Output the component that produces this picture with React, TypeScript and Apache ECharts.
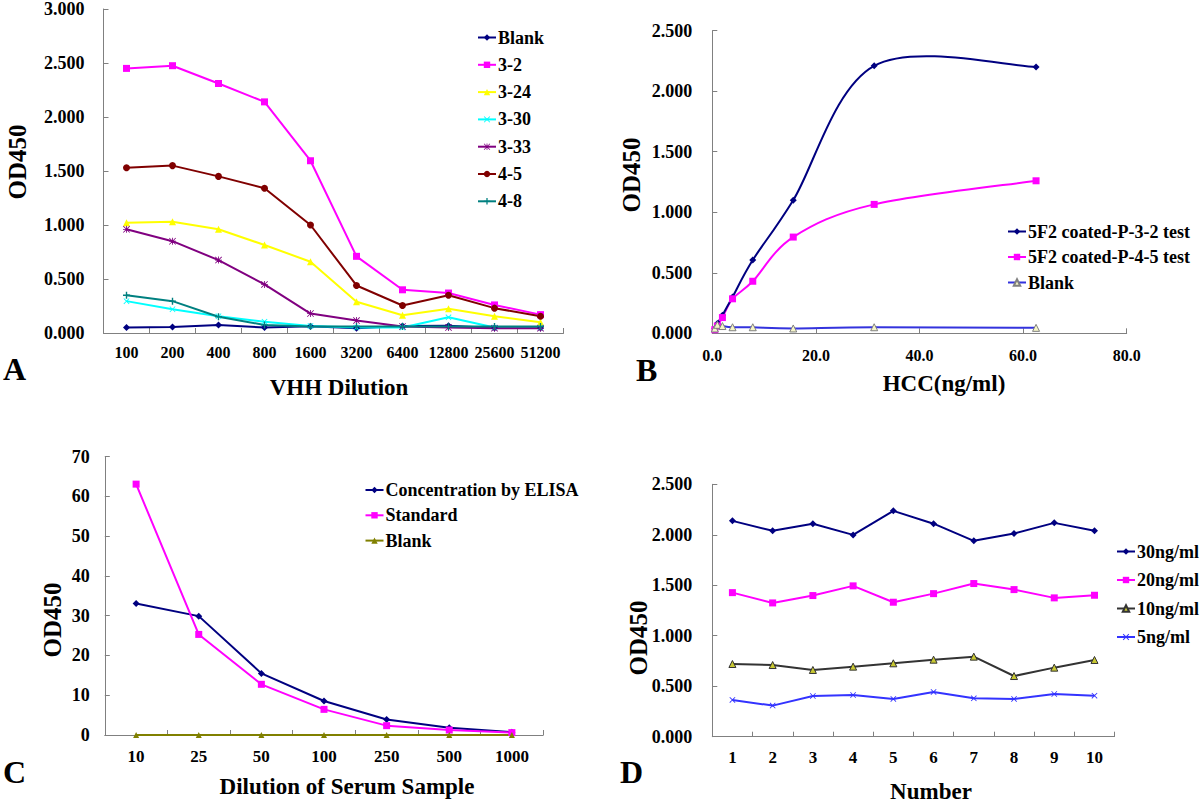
import React, { useEffect, useRef } from "react";
import * as echarts from "echarts";

// ---------- Panel A ----------
const dilutionsA = ["100", "200", "400", "800", "1600", "3200", "6400", "12800", "25600", "51200"];
const blankA = [0.05, 0.055, 0.074, 0.05, 0.062, 0.045, 0.064, 0.067, 0.046, 0.046];
const s3_2 = [2.45, 2.475, 2.31, 2.14, 1.595, 0.71, 0.4, 0.37, 0.26, 0.17];
const s3_24 = [1.02, 1.03, 0.96, 0.815, 0.66, 0.29, 0.165, 0.225, 0.155, 0.1];
const s3_30 = [0.295, 0.22, 0.155, 0.105, 0.065, 0.05, 0.05, 0.145, 0.05, 0.05];
const s3_33 = [0.96, 0.85, 0.675, 0.45, 0.18, 0.115, 0.06, 0.05, 0.045, 0.045];
const s4_5 = [1.53, 1.55, 1.45, 1.34, 1.0, 0.44, 0.255, 0.35, 0.23, 0.155];
const s4_8 = [0.35, 0.295, 0.15, 0.075, 0.06, 0.06, 0.06, 0.06, 0.06, 0.06];

// ---------- Panel B ----------
const hcc = [0.488, 0.977, 1.953, 3.906, 7.8125, 15.625, 31.25, 62.5];
const p32 = [0.04, 0.08, 0.15, 0.3, 0.605, 1.1, 2.21, 2.2];
const p45 = [0.03, 0.06, 0.13, 0.285, 0.43, 0.795, 1.065, 1.26];
const blankB = [0.04, 0.07, 0.06, 0.05, 0.05, 0.04, 0.05, 0.045];

// ---------- Panel C ----------
const dilutionsC = ["10", "25", "50", "100", "250", "500", "1000"];
const elisa = [33.1, 29.9, 15.5, 8.55, 3.9, 1.85, 0.7];
const standard = [63.1, 25.3, 12.75, 6.45, 2.35, 1.25, 0.6];
const blankC = [0, 0, 0, 0, 0, 0, 0];

// ---------- Panel D ----------
const numbers = ["1", "2", "3", "4", "5", "6", "7", "8", "9", "10"];
const ng30 = [2.138, 2.039, 2.11, 1.999, 2.237, 2.11, 1.94, 2.012, 2.118, 2.039];
const ng20 = [1.427, 1.325, 1.398, 1.494, 1.332, 1.417, 1.517, 1.457, 1.375, 1.401];
const ng10 = [0.72, 0.71, 0.661, 0.694, 0.727, 0.763, 0.793, 0.601, 0.684, 0.76];
const ng5 = [0.364, 0.308, 0.403, 0.413, 0.374, 0.443, 0.38, 0.374, 0.423, 0.406];

const FONT = "Liberation Serif";
const xSym = "path://M0,1L1,0L5,4L9,0L10,1L6,5L10,9L9,10L5,6L1,10L0,9L4,5Z";
const plusSym = "path://M4,0H6V4H10V6H6V10H4V6H0V4H4Z";
const starSym =
  "path://M4.4,0H5.6V4.4H10V5.6H5.6V10H4.4V5.6H0V4.4H4.4Z M0,0.8L0.8,0L5,4.2L9.2,0L10,0.8L5.8,5L10,9.2L9.2,10L5,5.8L0.8,10L0,9.2L4.2,5Z";

const axisLine = { show: true, lineStyle: { color: "#808080", width: 1 } };
const axisTick = { show: true, inside: true, length: 5, lineStyle: { color: "#808080" } };

function labelStyle(size: number, margin: number, fmt?: (v: number) => string) {
  const o: any = { color: "#000", fontFamily: FONT, fontWeight: "bold", fontSize: size, margin, interval: 0 };
  if (fmt) o.formatter = fmt;
  return o;
}

function line(
  name: string,
  data: any[],
  axis: number,
  color: string,
  symbol: string,
  symbolSize: number,
  extra: any = {}
) {
  return {
    type: "line",
    name,
    data,
    xAxisIndex: axis,
    yAxisIndex: axis,
    symbol,
    symbolSize,
    lineStyle: { color, width: 2 },
    itemStyle: { color },
    ...extra,
  };
}

// Excel-style smoothed curve (Catmull-Rom, tension 1/6) drawn through the axis scales
function smoothCurve(name: string, xs: number[], ys: number[], color: string) {
  return {
    type: "custom",
    name,
    xAxisIndex: 1,
    yAxisIndex: 1,
    silent: true,
    data: xs.map((x, i) => [x, ys[i]]),
    encode: { x: 0, y: 1 },
    renderItem: (params: any, api: any) => {
      if (params.dataIndex !== 0) return null;
      const p = xs.map((x, i) => api.coord([x, ys[i]]));
      let d = `M${p[0][0]},${p[0][1]}`;
      for (let i = 0; i < p.length - 1; i++) {
        const p0 = p[Math.max(i - 1, 0)];
        const p1 = p[i];
        const p2 = p[i + 1];
        const p3 = p[Math.min(i + 2, p.length - 1)];
        const c1x = p1[0] + (p2[0] - p0[0]) / 6;
        const c1y = p1[1] + (p2[1] - p0[1]) / 6;
        const c2x = p2[0] - (p3[0] - p1[0]) / 6;
        const c2y = p2[1] - (p3[1] - p1[1]) / 6;
        d += ` C${c1x},${c1y} ${c2x},${c2y} ${p2[0]},${p2[1]}`;
      }
      return {
        type: "path",
        shape: { pathData: d },
        style: { stroke: color, lineWidth: 2, fill: "none" },
      };
    },
  };
}

function legend(left: number, top: number, gap: number, data: any[]) {
  return {
    orient: "vertical",
    left,
    top,
    padding: 0,
    itemGap: gap,
    itemWidth: 18,
    itemHeight: 8,
    selectedMode: false,
    textStyle: { fontFamily: FONT, fontWeight: "bold", fontSize: 18, color: "#000", padding: [0, 0, 0, -3] },
    formatter: (n: string) => n.split("|")[1],
    data,
  };
}

function txt(text: string, x: number, y: number, size: number, rot = 0, align = "center") {
  return {
    type: "text",
    x,
    y,
    rotation: rot,
    style: {
      text,
      fill: "#000",
      fontFamily: FONT,
      fontWeight: "bold",
      fontSize: size,
      align,
      verticalAlign: "middle",
    },
  };
}

export default function App() {
  const ref = useRef<HTMLDivElement>(null);
  useEffect(() => {
    if (!ref.current) return;
    const chart = echarts.init(ref.current, undefined, { renderer: "svg" });
    const f3 = (v: number) => v.toFixed(3);
    const hidden = { width: 2, opacity: 0 };
    const option: any = {
      animation: false,
      backgroundColor: "#fff",
      grid: [
        { left: 103.5, top: 7.5, width: 460, height: 325.5 },
        { left: 712.3, top: 30.7, width: 414.4, height: 302.6 },
        { left: 104.8, top: 456.7, width: 438.4, height: 278.3 },
        { left: 712.3, top: 484.3, width: 402.3, height: 252.4 },
      ],
      xAxis: [
        { type: "category", gridIndex: 0, data: dilutionsA, boundaryGap: true, axisLine, axisTick, axisLabel: labelStyle(16, 11) },
        { type: "value", gridIndex: 1, min: 0, max: 80, interval: 20, splitLine: { show: false }, axisLine, axisTick, axisLabel: labelStyle(16, 14, (v) => v.toFixed(1)) },
        { type: "category", gridIndex: 2, data: dilutionsC, boundaryGap: true, axisLine, axisTick, axisLabel: labelStyle(17, 13) },
        { type: "category", gridIndex: 3, data: numbers, boundaryGap: true, axisLine, axisTick, axisLabel: labelStyle(17, 12) },
      ],
      yAxis: [
        { type: "value", gridIndex: 0, min: 0, max: 3, interval: 0.5, splitLine: { show: false }, axisLine, axisTick, axisLabel: labelStyle(18, 19, f3) },
        { type: "value", gridIndex: 1, min: 0, max: 2.5, interval: 0.5, splitLine: { show: false }, axisLine, axisTick, axisLabel: labelStyle(18, 20, f3) },
        { type: "value", gridIndex: 2, min: 0, max: 70, interval: 10, splitLine: { show: false }, axisLine, axisTick, axisLabel: labelStyle(18, 15) },
        { type: "value", gridIndex: 3, min: 0, max: 2.5, interval: 0.5, splitLine: { show: false }, axisLine, axisTick, axisLabel: labelStyle(18, 20, f3) },
      ],
      legend: [
        legend(477, 28.5, 9.3, ["A|Blank", "A|3-2", "A|3-24", "A|3-30", "A|3-33", "A|4-5", "A|4-8"]),
        legend(1007, 222.5, 7.5, [
          { name: "B|5F2 coated-P-3-2 test", lineStyle: { opacity: 1, width: 2, color: "#000080" } },
          { name: "B|5F2 coated-P-4-5 test", lineStyle: { opacity: 1, width: 2, color: "#ff00ff" } },
          { name: "B|Blank", lineStyle: { opacity: 1, width: 2, color: "#3333dd" } },
        ]),
        legend(364.5, 481, 7.3, ["C|Concentration by ELISA", "C|Standard", "C|Blank"]),
        legend(1116, 542.5, 10.5, ["D|30ng/ml", "D|20ng/ml", "D|10ng/ml", "D|5ng/ml"]),
      ],
      series: [
        line("A|Blank", blankA, 0, "#000080", "diamond", 7),
        line("A|3-2", s3_2, 0, "#ff00ff", "rect", 7),
        line("A|3-24", s3_24, 0, "#ffff00", "triangle", 7),
        line("A|3-30", s3_30, 0, "#00ffff", xSym, 6),
        line("A|3-33", s3_33, 0, "#800080", starSym, 7),
        line("A|4-5", s4_5, 0, "#800000", "circle", 7),
        line("A|4-8", s4_8, 0, "#008080", plusSym, 7),

        smoothCurve("B|curve-blank", hcc, blankB, "#3333dd"),
        smoothCurve("B|curve-45", hcc, p45, "#ff00ff"),
        smoothCurve("B|curve-32", hcc, p32, "#000080"),
        line("B|5F2 coated-P-3-2 test", hcc.map((x, i) => [x, p32[i]]), 1, "#000080", "diamond", 7, {
          lineStyle: { ...hidden, color: "#000080" },
        }),
        line("B|5F2 coated-P-4-5 test", hcc.map((x, i) => [x, p45[i]]), 1, "#ff00ff", "rect", 7, {
          lineStyle: { ...hidden, color: "#ff00ff" },
        }),
        line("B|Blank", hcc.map((x, i) => [x, blankB[i]]), 1, "#3333dd", "triangle", 7, {
          lineStyle: { ...hidden, color: "#3333dd" },
          itemStyle: { color: "#f4f4c8", borderColor: "#808080", borderWidth: 1 },
        }),

        line("C|Concentration by ELISA", elisa, 2, "#000080", "diamond", 7),
        line("C|Standard", standard, 2, "#ff00ff", "rect", 7),
        line("C|Blank", blankC, 2, "#808000", "triangle", 6),

        line("D|30ng/ml", ng30, 3, "#000080", "diamond", 7),
        line("D|20ng/ml", ng20, 3, "#ff00ff", "rect", 7),
        line("D|10ng/ml", ng10, 3, "#333333", "triangle", 7, {
          itemStyle: { color: "#c8c832", borderColor: "#333333", borderWidth: 1 },
        }),
        line("D|5ng/ml", ng5, 3, "#3333ff", xSym, 6),
      ],
      graphic: [
        txt("A", 3, 368.5, 32, 0, "left"),
        txt("B", 636, 369.5, 32, 0, "left"),
        txt("C", 3, 772, 32, 0, "left"),
        txt("D", 620, 772, 32, 0, "left"),
        txt("VHH Dilution", 339, 387, 23),
        txt("HCC(ng/ml)", 944, 383, 23),
        txt("Dilution of Serum Sample", 347, 786, 23),
        txt("Number", 931, 791, 23),
        txt("OD450", 17.5, 162, 25, Math.PI / 2),
        txt("OD450", 631, 175, 25, Math.PI / 2),
        txt("OD450", 52, 620, 25, Math.PI / 2),
        txt("OD450", 638.5, 638, 25, Math.PI / 2),
      ],
    };
    chart.setOption(option);
    return () => chart.dispose();
  }, []);
  return (
    <div
      ref={ref}
      style={{ position: "fixed", left: 0, top: 0, width: 1200, height: 802, background: "#fff" }}
    />
  );
}
